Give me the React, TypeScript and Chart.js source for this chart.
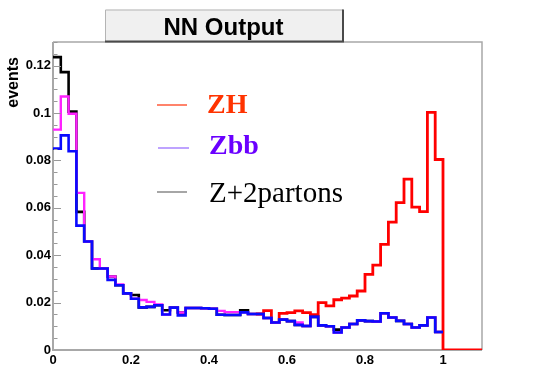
import { useEffect, useRef } from 'react';
import { Chart, registerables } from 'chart.js';

Chart.register(...registerables);

// ---- data (histograms, bin width 0.02) ----
const binWidth = 0.02;
const xMin = 0;
const xMax = 1.1;
const yMin = 0;
const yMax = 0.13;
const xTicks = [0, 0.2, 0.4, 0.6, 0.8, 1];
const yTicks = [0, 0.02, 0.04, 0.06, 0.08, 0.1, 0.12];
const yMinorStep = 0.005;

const titleText = 'NN Output';
const yAxisTitle = 'events';
const legendLabels = ['ZH', 'Zbb', 'Z+2partons'];

// ZH (red): hidden under the others below 0.52, then 0 beyond 1.0 up to 1.1
const zhValues = [
  null, null, null, null, null, null, null, null, null, null,
  null, null, null, null, null, null, null, null, null, null,
  null, null, null, null, null, null, 0.0152, 0.0166, 0.0117, 0.0155,
  0.0158, 0.0165, 0.0158, 0.0149, 0.0200, 0.0186, 0.0212, 0.0219, 0.0228, 0.0249,
  0.0319, 0.0358, 0.0446, 0.0540, 0.0622, 0.0721, 0.0603, 0.0584, 0.1003, 0.0804,
  0, 0, 0, 0, 0,
];

// blue
const blueValues = [
  0.0850, 0.0906, 0.0839, 0.0525, 0.0458, 0.0344, 0.0344, 0.0296, 0.0273, 0.0239,
  0.0216, 0.0180, 0.0182, 0.0189, 0.0150, 0.0179, 0.0146, 0.0177, 0.0177, 0.0176,
  0.0174, 0.0149, 0.0148, 0.0148, 0.0159, 0.0152, 0.0152, 0.0135, 0.0116, 0.0128,
  0.0122, 0.0106, 0.0101, 0.0140, 0.0104, 0.0100, 0.0074, 0.0095, 0.0110, 0.0125,
  0.0122, 0.0120, 0.0155, 0.0137, 0.0123, 0.0110, 0.0095, 0.0104, 0.0137, 0.0076,
];

// Zbb (magenta)
const zbbValues = [
  0.0930, 0.1070, 0.0997, 0.0663, 0.0458, 0.0383, 0.0344, 0.0310, 0.0277, 0.0239,
  0.0216, 0.0211, 0.0203, 0.0192, 0.0150, 0.0179, 0.0158, 0.0177, 0.0177, 0.0176,
  0.0174, 0.0165, 0.0160, 0.0160, 0.0159, 0.0152, 0.0152, 0.0135, 0.0116, 0.0128,
  0.0122, 0.0116, 0.0101, 0.0140, 0.0104, 0.0100, 0.0074, 0.0095, 0.0110, 0.0125,
  0.0122, 0.0120, 0.0155, 0.0137, 0.0123, 0.0110, 0.0095, 0.0104, 0.0137, 0.0076,
];

// Z+2partons (black)
const zpartonValues = [
  0.1236, 0.1173, 0.1006, 0.0583, 0.0458, 0.0344, 0.0344, 0.0310, 0.0273, 0.0239,
  0.0232, 0.0180, 0.0182, 0.0189, 0.0168, 0.0179, 0.0158, 0.0177, 0.0177, 0.0176,
  0.0174, 0.0149, 0.0148, 0.0148, 0.0168, 0.0152, 0.0152, 0.0135, 0.0116, 0.0128,
  0.0122, 0.0106, 0.0101, 0.0140, 0.0104, 0.0100, 0.0086, 0.0095, 0.0110, 0.0125,
  0.0122, 0.0120, 0.0155, 0.0137, 0.0123, 0.0110, 0.0095, 0.0104, 0.0137, 0.0076,
];

function histPoints(values: (number | null)[]) {
  const pts = values.map((v, i) => ({ x: i * binWidth, y: v }));
  pts.push({ x: values.length * binWidth, y: values[values.length - 1] });
  return pts;
}

function fmt(v: number) {
  return String(Number(v.toFixed(3)));
}

const decorPlugin = {
  id: 'decor',
  beforeDatasetsDraw(chart: any) {
    const { ctx, chartArea } = chart;
    const { left, right, top, bottom } = chartArea;
    ctx.save();
    ctx.strokeStyle = '#a8a8a8';
    ctx.lineWidth = 1.5;
    ctx.beginPath();
    ctx.moveTo(left, top);
    ctx.lineTo(right, top);
    ctx.lineTo(right, bottom);
    ctx.stroke();
    ctx.lineWidth = 2;
    ctx.beginPath();
    ctx.moveTo(left, top);
    ctx.lineTo(left, bottom);
    ctx.lineTo(right, bottom);
    ctx.stroke();
    ctx.restore();
  },
  afterDraw(chart: any) {
    const { ctx, chartArea } = chart;
    const ys = chart.scales.y;
    ctx.save();
    // y ticks (inward)
    ctx.strokeStyle = '#999999';
    ctx.lineWidth = 1;
    const nMinor = Math.round((yMax - yMin) / yMinorStep);
    for (let i = 1; i <= nMinor; i++) {
      const v = yMin + i * yMinorStep;
      const isMajor = yTicks.some((t) => Math.abs(t - v) < 1e-9);
      const py = Math.round(ys.getPixelForValue(v)) + 0.5;
      ctx.beginPath();
      ctx.moveTo(chartArea.left + 1, py);
      ctx.lineTo(chartArea.left + (isMajor ? 8 : 4.5), py);
      ctx.stroke();
    }

    // y axis title
    ctx.fillStyle = '#000';
    ctx.font = 'bold 16px "Liberation Sans", Arial, sans-serif';
    ctx.translate(14, 57);
    ctx.rotate(-Math.PI / 2);
    ctx.textAlign = 'right';
    ctx.textBaseline = 'middle';
    ctx.fillText(yAxisTitle, 0, 0);
    ctx.setTransform(1, 0, 0, 1, 0, 0);

    // title box
    const bx = 105, by = 9.5, bw = 238, bh = 32;
    ctx.fillStyle = '#f0f0f0';
    ctx.fillRect(bx, by, bw, bh);
    ctx.strokeStyle = '#b4b4b4';
    ctx.lineWidth = 1;
    ctx.beginPath();
    ctx.moveTo(bx + 0.5, by + bh);
    ctx.lineTo(bx + 0.5, by + 0.5);
    ctx.lineTo(bx + bw, by + 0.5);
    ctx.stroke();
    ctx.strokeStyle = '#4a4a4a';
    ctx.lineWidth = 2;
    ctx.beginPath();
    ctx.moveTo(bx + bw, by);
    ctx.lineTo(bx + bw, by + bh);
    ctx.lineTo(bx, by + bh);
    ctx.stroke();
    ctx.fillStyle = '#000';
    ctx.font = 'bold 24px "Liberation Sans", Arial, sans-serif';
    ctx.textAlign = 'center';
    ctx.textBaseline = 'alphabetic';
    ctx.fillText(titleText, 223.5, 35);

    // legend
    const legendLines = [
      { y: 105, x1: 157, x2: 187, color: '#ff5a3a' },
      { y: 148, x1: 158, x2: 189, color: '#a884ff' },
      { y: 192, x1: 157, x2: 187, color: '#888888' },
    ];
    ctx.lineWidth = 1.5;
    legendLines.forEach((l) => {
      ctx.strokeStyle = l.color;
      ctx.beginPath();
      ctx.moveTo(l.x1, l.y);
      ctx.lineTo(l.x2, l.y);
      ctx.stroke();
    });
    ctx.textAlign = 'left';
    ctx.font = 'bold 28px "Liberation Serif", "Times New Roman", serif';
    ctx.fillStyle = '#ff3300';
    ctx.fillText(legendLabels[0], 207, 112.5);
    ctx.fillStyle = '#6a00ff';
    ctx.fillText(legendLabels[1], 209, 153.5);
    ctx.font = '29px "Liberation Serif", "Times New Roman", serif';
    ctx.fillStyle = '#000';
    ctx.fillText(legendLabels[2], 209, 201.5);
    ctx.restore();
  },
};

export default function App() {
  const ref = useRef<HTMLCanvasElement | null>(null);

  useEffect(() => {
    if (!ref.current) return;
    const common = {
      stepped: 'before' as const,
      pointRadius: 0,
      fill: false,
      tension: 0,
      spanGaps: false,
      borderJoinStyle: 'miter' as const,
      borderCapStyle: 'butt' as const,
    };
    const chart = new Chart(ref.current, {
      type: 'line',
      data: {
        datasets: [
          { ...common, label: 'blue', data: histPoints(blueValues), borderColor: '#0a0aff', borderWidth: 2.6, order: 0 },
          { ...common, label: 'Zbb', data: histPoints(zbbValues), borderColor: '#ff22ff', borderWidth: 2.4, order: 1 },
          { ...common, label: 'Z+2partons', data: histPoints(zpartonValues), borderColor: '#000000', borderWidth: 2.6, order: 2 },
          { ...common, label: 'ZH', data: histPoints(zhValues), borderColor: '#ff0000', borderWidth: 2.8, order: 3 },
        ] as any,
      },
      options: {
        responsive: false,
        animation: false,
        devicePixelRatio: 1,
        layout: { padding: { left: 0, top: 42, right: 58, bottom: 0 } },
        plugins: { legend: { display: false }, tooltip: { enabled: false }, title: { display: false } },
        scales: {
          x: {
            type: 'linear',
            min: xMin,
            max: xMax,
            grid: { display: false, drawTicks: false, tickLength: 0 },
            border: { display: false },
            afterBuildTicks: (s: any) => {
              s.ticks = xTicks.map((v) => ({ value: v }));
            },
            afterFit: (s: any) => {
              s.height = 38;
            },
            ticks: {
              autoSkip: false,
              maxRotation: 0,
              padding: 3,
              color: '#000',
              font: { family: '"Liberation Sans", Arial, sans-serif', weight: 'bold', size: 13 },
              callback: (v: any) => fmt(Number(v)),
            },
          },
          y: {
            type: 'linear',
            min: yMin,
            max: yMax,
            grid: { display: false, drawTicks: false, tickLength: 0 },
            border: { display: false },
            afterBuildTicks: (s: any) => {
              s.ticks = yTicks.map((v) => ({ value: v }));
            },
            afterFit: (s: any) => {
              s.width = 53;
            },
            ticks: {
              autoSkip: false,
              padding: 2,
              color: '#000',
              font: { family: '"Liberation Sans", Arial, sans-serif', weight: 'bold', size: 13 },
              callback: (v: any) => fmt(Number(v)),
            },
          },
        },
      } as any,
      plugins: [decorPlugin],
    });
    return () => chart.destroy();
  }, []);

  return (
    <div style={{ position: 'absolute', left: 0, top: 0, width: 540, height: 388, background: '#fff' }}>
      <canvas ref={ref} width={540} height={388} />
    </div>
  );
}
